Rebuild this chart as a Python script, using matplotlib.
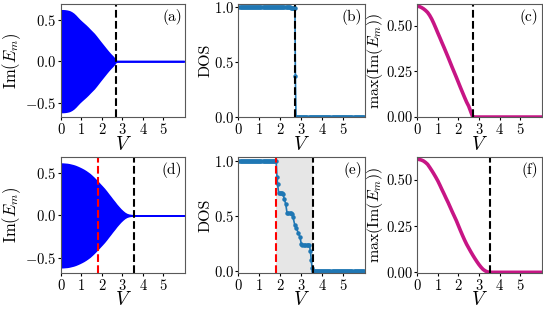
import numpy as np
import matplotlib
matplotlib.use('Agg')
import matplotlib.pyplot as plt

plt.rcParams['font.family'] = 'serif'
plt.rcParams['font.serif'] = ['cmr10']
plt.rcParams['mathtext.fontset'] = 'cm'
plt.rcParams['axes.formatter.use_mathtext'] = True
plt.rcParams['axes.unicode_minus'] = True

# ---- data ----
# envelope of Im(E_m), panel (a), V = 0..2.7 step 0.1, zero afterwards
V_env = np.round(np.arange(0, 6.01, 0.1), 2)
env_a = [0.614, 0.614, 0.612, 0.608, 0.602, 0.59, 0.573, 0.55, 0.523, 0.497,
         0.474, 0.452, 0.43, 0.406, 0.38, 0.355, 0.33, 0.30, 0.268, 0.236,
         0.205, 0.174, 0.143, 0.113, 0.085, 0.06, 0.032, 0.0]
# max(Im(E_m)), panel (c)
max_c = [0.608, 0.606, 0.601, 0.594, 0.585, 0.574, 0.558, 0.538, 0.514, 0.488,
         0.461, 0.435, 0.408, 0.382, 0.355, 0.328, 0.30, 0.272, 0.245, 0.218,
         0.19, 0.162, 0.135, 0.108, 0.082, 0.06, 0.03, 0.0]
# envelope of Im(E_m), panel (d)
env_d = [0.615, 0.614, 0.612, 0.61, 0.606, 0.60, 0.594, 0.586, 0.576, 0.565,
         0.553, 0.54, 0.525, 0.508, 0.49, 0.468, 0.445, 0.42, 0.395, 0.368,
         0.342, 0.315, 0.285, 0.253, 0.222, 0.19, 0.16, 0.128, 0.10, 0.073,
         0.05, 0.03, 0.016, 0.008, 0.004, 0.001, 0.0]
# max(Im(E_m)), panel (f)
max_f = [0.613, 0.611, 0.608, 0.603, 0.595, 0.585, 0.569, 0.552, 0.534, 0.515,
         0.495, 0.472, 0.448, 0.425, 0.401, 0.378, 0.353, 0.328, 0.304, 0.28,
         0.253, 0.226, 0.20, 0.175, 0.152, 0.132, 0.112, 0.093, 0.075, 0.058,
         0.042, 0.028, 0.016, 0.008, 0.003, 0.0]

def pad(vals):
    return np.array(list(vals) + [0.0] * (len(V_env) - len(vals)))

# DOS, panel (b)
V_b = [round(0.05 * i, 2) for i in range(55)] + [2.72] + [round(2.75 + 0.05 * i, 2) for i in range(66)]
dos_b = [1.0] * 40 + [0.997] * 10 + [0.993] * 5 + [0.37] + [0.0] * 66

# DOS, panel (e)
V_e_mid = [1.80, 1.84, 1.87, 1.92, 1.97, 2.02, 2.07, 2.13, 2.19, 2.26, 2.32,
           2.38, 2.45, 2.51, 2.56, 2.61, 2.69, 2.77, 2.85, 2.94, 3.00, 3.06,
           3.12, 3.19, 3.26, 3.33, 3.39, 3.44, 3.48, 3.52]
dos_e_mid = [1.0, 0.86, 0.79, 0.71, 0.71, 0.71, 0.71, 0.70, 0.655, 0.61, 0.53,
             0.53, 0.53, 0.53, 0.52, 0.49, 0.42, 0.39, 0.35, 0.31, 0.25, 0.24,
             0.24, 0.24, 0.24, 0.24, 0.24, 0.18, 0.10, 0.03]
V_e = [round(0.05 * i, 2) for i in range(36)] + V_e_mid + [round(3.55 + 0.05 * i, 2) for i in range(50)]
dos_e = [1.0] * 36 + dos_e_mid + [0.0] * 50

V_c1 = 2.7    # transition, top row
V_c2 = 1.8    # red line, bottom row
V_c3 = 3.55   # black line, bottom row

blue = '#0000ff'
dos_col = '#1f77b4'
mag = '#c71585'

fig = plt.figure(figsize=(5.43, 3.09), dpi=100)
cols = [(0.1123, 0.2284), (0.4392, 0.2330), (0.7685, 0.2290)]
rows = [(0.620, 0.367), (0.1175, 0.3735)]
axs = [[fig.add_axes([l, b, w, h]) for (l, w) in cols] for (b, h) in rows]


def style(ax, label):
    ax.set_xlim(0, 6.05)
    ax.set_xticks([0, 1, 2, 3, 4, 5])
    ax.set_xlabel(r'$V$', fontsize=14, labelpad=-1)
    ax.tick_params(labelsize=10.5, length=2.5, pad=1)
    for s in ax.spines.values():
        s.set_color('0.35')
    ax.text(0.975, 0.955, label, transform=ax.transAxes, ha='right', va='top', fontsize=11)


# (a)
ax = axs[0][0]
ea = pad(env_a)
ax.fill_between(V_env, -ea, ea, color=blue, edgecolor=blue, linewidth=1.2)
ax.axvline(V_c1, color='k', ls='--', lw=1.5)
ax.set_ylim(-0.68, 0.69)
ax.set_yticks([-0.5, 0.0, 0.5])
ax.set_ylabel(r'$\mathrm{Im}(E_m)$', fontsize=12, labelpad=1)
style(ax, '(a)')

# (b)
ax = axs[0][1]
ax.plot(V_b, dos_b, '-o', color=dos_col, lw=1.2, ms=2.2)
ax.axvline(V_c1, color='k', ls='--', lw=1.5)
ax.set_ylim(-0.005, 1.025)
ax.set_yticks([0.0, 0.5, 1.0])
ax.set_ylabel('DOS', fontsize=11.5, labelpad=1)
style(ax, '(b)')

# (c)
ax = axs[0][2]
ax.plot(V_env, pad(max_c), color=mag, lw=2.6)
ax.axvline(V_c1, color='k', ls='--', lw=1.5)
ax.set_ylim(-0.002, 0.62)
ax.set_yticks([0.0, 0.25, 0.5])
ax.set_yticklabels(['0.00', '0.25', '0.50'])
ax.set_ylabel(r'$\max(\mathrm{Im}(E_m))$', fontsize=11.5, labelpad=1)
style(ax, '(c)')

# (d)
ax = axs[1][0]
ed = pad(env_d)
ax.fill_between(V_env, -ed, ed, color=blue, edgecolor=blue, linewidth=1.2)
ax.axvline(V_c2, color='r', ls='--', lw=1.5)
ax.axvline(V_c3, color='k', ls='--', lw=1.5)
ax.set_ylim(-0.68, 0.69)
ax.set_yticks([-0.5, 0.0, 0.5])
ax.set_ylabel(r'$\mathrm{Im}(E_m)$', fontsize=12, labelpad=1)
style(ax, '(d)')

# (e)
ax = axs[1][1]
ax.axvspan(V_c2, V_c3, color='0.9', lw=0)
ax.plot(V_e, dos_e, '-o', color=dos_col, lw=1.2, ms=2.2)
ax.axvline(V_c2, color='r', ls='--', lw=1.5)
ax.axvline(V_c3, color='k', ls='--', lw=1.5)
ax.set_ylim(-0.015, 1.035)
ax.set_yticks([0.0, 0.5, 1.0])
ax.set_ylabel('DOS', fontsize=11.5, labelpad=1)
style(ax, '(e)')

# (f)
ax = axs[1][2]
ax.plot(V_env, pad(max_f), color=mag, lw=2.6)
ax.axvline(V_c3, color='k', ls='--', lw=1.5)
ax.set_ylim(-0.002, 0.623)
ax.set_yticks([0.0, 0.25, 0.5])
ax.set_yticklabels(['0.00', '0.25', '0.50'])
ax.set_ylabel(r'$\max(\mathrm{Im}(E_m))$', fontsize=11.5, labelpad=1)
style(ax, '(f)')

fig.savefig('out.png', dpi=100)
